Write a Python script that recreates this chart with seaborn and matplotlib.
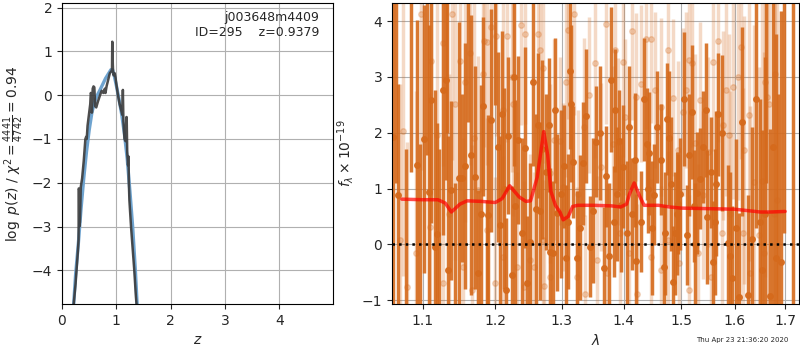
import numpy as np
import pandas as pd
import matplotlib
matplotlib.use("Agg")
import matplotlib.pyplot as plt
from matplotlib.ticker import FixedLocator, FixedFormatter, NullLocator
import seaborn as sns

# p(z) curves
pz_z = [0.215, 0.25, 0.29, 0.305, 0.308, 0.315, 0.318, 0.33, 0.34, 0.345, 0.37, 0.40,
        0.43, 0.445, 0.455, 0.47, 0.50, 0.52, 0.53, 0.545, 0.55, 0.565, 0.58, 0.595,
        0.61, 0.63, 0.66, 0.70, 0.73, 0.76, 0.79, 0.80, 0.82, 0.85, 0.88, 0.91, 0.92,
        0.925, 0.935, 0.94, 0.95, 0.97, 0.985, 1.0, 1.03, 1.06, 1.09, 1.11, 1.12, 1.13,
        1.15, 1.17, 1.185, 1.19, 1.2, 1.215, 1.225, 1.23, 1.24, 1.27, 1.30, 1.33, 1.36,
        1.38, 1.40]
pz_logp = [-4.77, -4.3, -3.6, -3.3, -2.13, -2.15, -3.0, -2.9, -2.4, -2.1, -1.9, -1.5,
           -1.0, -0.95, -1.0, -0.7, -0.4, -0.2, 0.05, 0.0, -0.4, 0.15, 0.2, 0.18,
           -0.25, -0.28, -0.15, 0.0, 0.1, 0.05, 0.15, 0.05, 0.2, 0.35, 0.5, 0.55, 0.6,
           1.22, 0.7, 0.55, 0.45, 0.5, 0.4, 0.25, 0.0, -0.2, -0.35, -0.45, 0.12, -0.6,
           -1.0, -1.05, -0.5, -0.5, -1.3, -1.6, -1.4, -2.0, -2.4, -3.0, -3.5, -4.0, -4.6,
           -4.9, -5.2]
smooth_z = [0.215, 0.25, 0.30, 0.35, 0.40, 0.45, 0.50, 0.55, 0.60, 0.65, 0.70, 0.75,
            0.80, 0.85, 0.90, 0.93, 0.96, 1.00, 1.05, 1.10, 1.15, 1.20, 1.25, 1.30,
            1.35, 1.40]
smooth_logp = [-4.77, -4.1, -3.4, -2.6, -1.9, -1.3, -0.8, -0.4, -0.15, 0.0, 0.12, 0.25,
               0.38, 0.48, 0.58, 0.58, 0.45, 0.22, -0.1, -0.45, -0.9, -1.45, -2.2, -3.0,
               -4.0, -5.2]

# spectrum: well-measured pixels
dark_wave = [1.0619, 1.0683, 1.0929, 1.1009, 1.1087, 1.1114, 1.1160, 1.1183, 1.1270,
             1.1306, 1.1338, 1.1374, 1.1489, 1.1534, 1.1566, 1.1717, 1.1753, 1.1799,
             1.1831, 1.1900, 1.1945, 1.2040, 1.2075, 1.2100, 1.2150, 1.2190, 1.2240,
             1.2290, 1.2340, 1.2430, 1.2465, 1.2505, 1.2595, 1.2640, 1.2700, 1.2795,
             1.2815, 1.2855, 1.2930, 1.3033, 1.3071, 1.3098, 1.3148, 1.3180, 1.3235,
             1.3328, 1.3454, 1.3546, 1.3672, 1.3716, 1.3798, 1.3836, 1.3891, 1.3929,
             1.3989, 1.4059, 1.4135, 1.4188, 1.4294, 1.4394, 1.4412, 1.4429, 1.4529,
             1.4647, 1.4724, 1.4753, 1.4824, 1.4865, 1.4924, 1.4953, 1.4982, 1.5103,
             1.5152, 1.5200, 1.5242, 1.5285, 1.5345, 1.5394, 1.5485, 1.5545, 1.5588,
             1.5648, 1.5685, 1.5879, 1.5958, 1.6020, 1.6087, 1.6267, 1.6487, 1.6533,
             1.6600, 1.6700, 1.6753, 1.6820, 1.6913, 1.7160,
             1.065, 1.078, 1.085, 1.096, 1.105, 1.122, 1.133, 1.143, 1.161, 1.166,
             1.188, 1.199, 1.213, 1.227, 1.239, 1.255, 1.267, 1.276, 1.289, 1.299,
             1.312, 1.328, 1.339, 1.350, 1.361, 1.375, 1.386, 1.396, 1.409, 1.421,
             1.434, 1.448, 1.458, 1.469, 1.479, 1.490, 1.506, 1.526, 1.545, 1.562,
             1.575, 1.592, 1.615, 1.633, 1.642, 1.662, 1.686, 1.697]
dark_flux = [1.93, 0.88, 1.42, 1.88, 0.93, 2.59, -0.04, 0.18, 2.76, 2.95, -0.46, 0.97,
             1.19, 1.19, 1.40, 1.20, -0.52, 0.55, 2.47, 0.52, 2.22, 1.74, 0.35, 2.33,
             -0.82, 1.95, -0.55, 0.69, 1.87, 1.73, -0.70, 0.05, 0.63, 2.13, 1.70, 2.13,
             -0.14, -0.16, 0.57, 1.40, -0.24, 0.41, 2.52, 1.48, -0.25, 1.45, -0.04, 1.84,
             -0.43, 1.22, 2.95, 0.41, 0.90, 1.86, 1.39, 0.20, 0.54, 1.52, 0.41, 1.80,
             1.00, 1.63, 0.89, 1.52, 0.20, 2.25, 1.09, -0.67, 0.55, 0.72, 0.90, 0.17,
             1.60, 2.37, 0.69, 0.92, 1.18, 1.75, 0.49, 1.29, -0.32, 1.09, 2.33, 0.02,
             -0.61, 0.29, -0.94, -0.91, 0.41, -0.46, 0.55, -0.93, 1.75, -0.24, -0.32, 5.5,
             4.6, -1.3, 4.5, -1.2, 4.4, -1.2, 4.5, -1.3, 4.4, 1.6,
             -1.2, 4.4, 1.0, 3.0, 0.2, 2.9, 0.6, 1.3, 2.4, 0.9,
             3.1, 0.3, 2.3, 0.6, 2.0, -0.2, 2.4, 0.7, 2.1, -0.3,
             2.6, 0.3, 2.1, -0.4, 1.9, 0.2, 2.6, 0.0, 2.4, 0.4,
             2.0, -0.2, 2.2, 0.1, 2.6, 4.6, -1.3, 4.7]
dark_err = [3.0, 2.0, 2.6, 2.4, 3.0, 2.2, 2.8, 2.0, 2.6, 1.8, 2.4, 1.6, 2.8, 1.5, 2.2,
            2.0, 1.5, 2.3, 1.6, 1.8, 2.0, 1.7, 1.6, 1.5, 1.3, 1.4, 1.6, 1.9, 1.5, 1.8,
            1.2, 1.4, 1.7, 1.3, 1.6, 1.2, 1.5, 1.3, 1.4, 1.1, 1.3, 1.2, 1.4, 1.0, 1.2,
            1.1, 0.9, 1.0, 1.1, 0.9, 1.3, 1.0, 1.2, 0.9, 1.1, 1.3, 1.0, 1.2, 0.9, 1.0,
            0.8, 1.1, 0.9, 1.0, 1.1, 1.0, 1.2, 1.0, 1.1, 0.9, 1.0, 0.9, 1.1, 1.2, 1.0,
            1.1, 0.9, 1.0, 1.2, 1.0, 1.1, 1.3, 1.1, 1.4, 1.3, 1.6, 1.5, 1.8, 2.2, 2.5,
            2.8, 3.0, 3.5, 4.0, 4.5, 10.0,
            3.5, 3.0, 3.2, 3.0, 2.8, 2.9, 2.5, 2.4, 2.2, 2.5,
            2.0, 1.9, 1.8, 1.6, 1.7, 1.5, 1.6, 1.4, 1.3, 1.5,
            1.4, 1.3, 1.2, 1.3, 1.2, 1.3, 1.1, 1.2, 1.1, 1.2,
            1.1, 1.2, 1.0, 1.1, 1.2, 1.1, 1.2, 1.1, 1.2, 1.3,
            1.4, 1.5, 1.7, 2.0, 2.3, 3.5, 4.0, 4.5]

# spectrum: faint / down-weighted pixels
light_wave = [1.0739, 1.0978, 1.1110, 1.1187, 1.1275, 1.1388, 1.1434, 1.1503, 1.1572,
              1.1640, 1.1694, 1.1758, 1.1831, 1.1840, 1.1877, 1.1945, 1.2015, 1.2115,
              1.2165, 1.2240, 1.2265, 1.2375, 1.2430, 1.2515, 1.2575, 1.2640, 1.2665,
              1.2715, 1.2730, 1.2815, 1.2875, 1.2965, 1.3060, 1.3104, 1.3197, 1.3262,
              1.3344, 1.3426, 1.3525, 1.3618, 1.3716, 1.3825, 1.3864, 1.3902, 1.3989,
              1.4030, 1.4147, 1.4206, 1.4294, 1.4388, 1.4471, 1.4541, 1.4647, 1.4776,
              1.4853, 1.4941, 1.5030, 1.5091, 1.5152, 1.5200, 1.5261, 1.5352, 1.5394,
              1.5503, 1.5594, 1.5685, 1.5776, 1.5830, 1.5897, 1.5970, 1.6067, 1.6113,
              1.6187, 1.6287, 1.6367, 1.6467, 1.6533, 1.6600, 1.6633, 1.6680, 1.6800,
              1.6833, 1.0704, 1.0790, 1.0913, 1.1101, 1.1266, 1.1357, 1.1549, 1.1676,
              1.1877, 1.1991, 1.2115, 1.2315, 1.2415, 1.2715, 1.2815, 1.3015, 1.3235,
              1.3372, 1.3563, 1.3727, 1.3946, 1.4088, 1.4235, 1.4471, 1.4647, 1.4765,
              1.4971, 1.5152, 1.5303, 1.5545, 1.5758, 1.5909, 1.6167, 1.6300, 1.6567,
              1.6767]
light_flux = [2.03, 4.13, 3.28, 1.96, 3.60, 4.12, 2.52, 3.28, 2.90, 3.42, 1.91, 0.97,
              3.06, 3.65, 3.62, 3.89, 3.74, 2.40, 3.74, 2.99, 2.51, 3.93, 3.76, -0.28,
              -0.40, 3.77, 3.49, 3.15, -0.74, 1.27, 1.87, 1.85, 2.91, 3.84, 4.12, 0.91,
              2.10, 2.67, 3.24, 1.39, 3.95, 1.79, 3.48, 1.84, 3.27, 2.28, 3.83, 2.64,
              2.88, 3.67, 3.67, 2.76, 2.46, 3.49, 2.63, 1.69, 2.37, 2.76, 3.30, 3.24,
              1.81, 2.58, 0.88, 1.66, 3.27, 3.64, 2.13, 2.77, 1.96, 2.81, 2.99, 3.53,
              1.69, 2.31, 1.12, 0.17, 1.14, 2.91, 2.64, 2.52, 3.06, 0.79, 0.08, -0.76,
              -0.16, 0.32, -0.70, 0.55, -0.40, -0.82, 0.26, -0.70, -0.22, -0.40, -0.76,
              0.08, -0.58, 1.03, -0.58, -0.88, -0.28, -0.52, 0.20, -0.16, -0.88, -0.22,
              -0.46, 0.08, -0.34, -0.82, -0.16, -0.58, 0.20, 0.55, 0.20, -0.52, -0.16,
              0.55]
light_err = [2.6, 2.8, 2.4, 2.9, 2.2, 2.6, 2.8, 2.3, 2.5, 2.0, 2.7, 2.4, 2.1, 1.9, 2.2,
             2.0, 1.8, 2.1, 1.9, 1.7, 2.0, 1.8, 1.6, 1.9, 1.7, 1.8, 1.6, 1.7, 1.9, 1.6,
             1.8, 1.5, 1.7, 1.6, 1.8, 1.5, 1.6, 1.4, 1.7, 1.5, 1.8, 1.4, 1.6, 1.5, 1.7,
             1.4, 1.6, 1.5, 1.4, 1.6, 1.5, 1.4, 1.6, 1.5, 1.4, 1.6, 1.5, 1.4, 1.7, 1.5,
             1.6, 1.4, 1.5, 1.7, 1.6, 1.8, 1.7, 1.9, 1.8, 2.0, 2.2, 2.0, 2.4, 2.6, 2.8,
             3.0, 3.2, 3.5, 3.8, 4.0, 4.5, 4.2, 2.8, 2.6, 2.9, 2.4, 2.7, 2.5, 2.3, 2.6,
             2.0, 1.9, 1.8, 1.7, 1.9, 1.6, 1.7, 1.5, 1.6, 1.4, 1.5, 1.6, 1.4, 1.5, 1.6,
             1.4, 1.5, 1.6, 1.5, 1.7, 1.6, 1.8, 2.0, 2.2, 2.6, 3.0, 3.6, 4.0]

# best-fit model
model_wave = [1.0725, 1.10, 1.12, 1.13, 1.1384, 1.15, 1.16, 1.18, 1.20, 1.21, 1.221,
              1.235, 1.245, 1.252, 1.262, 1.272, 1.278, 1.283, 1.29, 1.297, 1.302, 1.31,
              1.317, 1.325, 1.35, 1.38, 1.395, 1.405, 1.41, 1.418, 1.428, 1.435, 1.46,
              1.48, 1.50, 1.55, 1.60, 1.63, 1.65, 1.67, 1.70]
model_flux = [0.81, 0.80, 0.80, 0.74, 0.58, 0.72, 0.78, 0.77, 0.75, 0.82, 1.05, 0.85,
              0.77, 0.78, 1.2, 2.02, 1.6, 0.95, 0.70, 0.58, 0.44, 0.50, 0.68, 0.70,
              0.70, 0.69, 0.67, 0.72, 0.90, 1.10, 0.85, 0.70, 0.70, 0.67, 0.65, 0.64,
              0.63, 0.60, 0.58, 0.58, 0.59]

orange = "#d56a1c"

sns.set_style("ticks")
plt.rcParams["font.family"] = ["DejaVu Sans"]

fig = plt.figure(figsize=(8, 3.5), dpi=100)
ax1 = fig.add_axes([0.0775, 0.131, 0.339, 0.860])
ax2 = fig.add_axes([0.490, 0.131, 0.509, 0.860])

# p(z) panel
sns.lineplot(x=smooth_z, y=smooth_logp, ax=ax1, color="#6ea3cf", lw=2.4,
             sort=False, estimator=None)
sns.lineplot(x=pz_z, y=pz_logp, ax=ax1, color="#3a3a3a", lw=1.8, alpha=0.9,
             sort=False, estimator=None)
ax1.set_xlim(0, 4.99)
ax1.set_ylim(-4.77, 2.1)
ax1.set_xticks([0, 1, 2, 3, 4])
ax1.set_yticks([-4, -3, -2, -1, 0, 1, 2])
ax1.grid(True, color="#b0b0b0", lw=0.8)
ax1.set_xlabel("$z$", fontsize=10)
ax1.set_ylabel(r"$\log\ p(z)$ / $\chi^2=\frac{4441}{4742}=0.94$", fontsize=10)
ax1.text(0.95, 0.975, "j003648m4409\nID=295    z=0.9379", transform=ax1.transAxes,
         ha="right", va="top", fontsize=9)

# spectrum panel
ax2.errorbar(light_wave, light_flux, yerr=light_err, fmt="o", color=orange,
             alpha=0.25, markersize=4, elinewidth=2.5, capsize=0, zorder=1)
ax2.errorbar(dark_wave, dark_flux, yerr=dark_err, fmt="o", color=orange,
             alpha=0.9, markersize=4, elinewidth=2.5, capsize=0, zorder=2)
sns.lineplot(x=model_wave, y=model_flux, ax=ax2, color="red", lw=2.5, alpha=0.7,
             sort=False, estimator=None, zorder=3)
ax2.axhline(0, color="k", ls=":", lw=1.8, zorder=4)
ax2.set_xscale("log")
ax2.set_xlim(1.06, 1.729)
ax2.set_ylim(-1.07, 4.32)
xt = [1.1, 1.2, 1.3, 1.4, 1.5, 1.6, 1.7]
ax2.xaxis.set_major_locator(FixedLocator(xt))
ax2.xaxis.set_major_formatter(FixedFormatter([f"{v:.1f}" for v in xt]))
ax2.xaxis.set_minor_locator(NullLocator())
ax2.set_yticks([-1, 0, 1, 2, 3, 4])
ax2.grid(True, color="#b0b0b0", lw=0.8)
ax2.set_xlabel(r"$\lambda$", fontsize=10)
ax2.set_ylabel(r"$f_\lambda\times10^{-19}$", fontsize=10)

for ax in (ax1, ax2):
    ax.tick_params(labelsize=10)
    for s in ax.spines.values():
        s.set_visible(True)
        s.set_color("k")

fig.text(0.928, 0.028, "Thu Apr 23 21:36:20 2020", ha="center", va="center",
         fontsize=5)

fig.savefig("out.png", dpi=100)
